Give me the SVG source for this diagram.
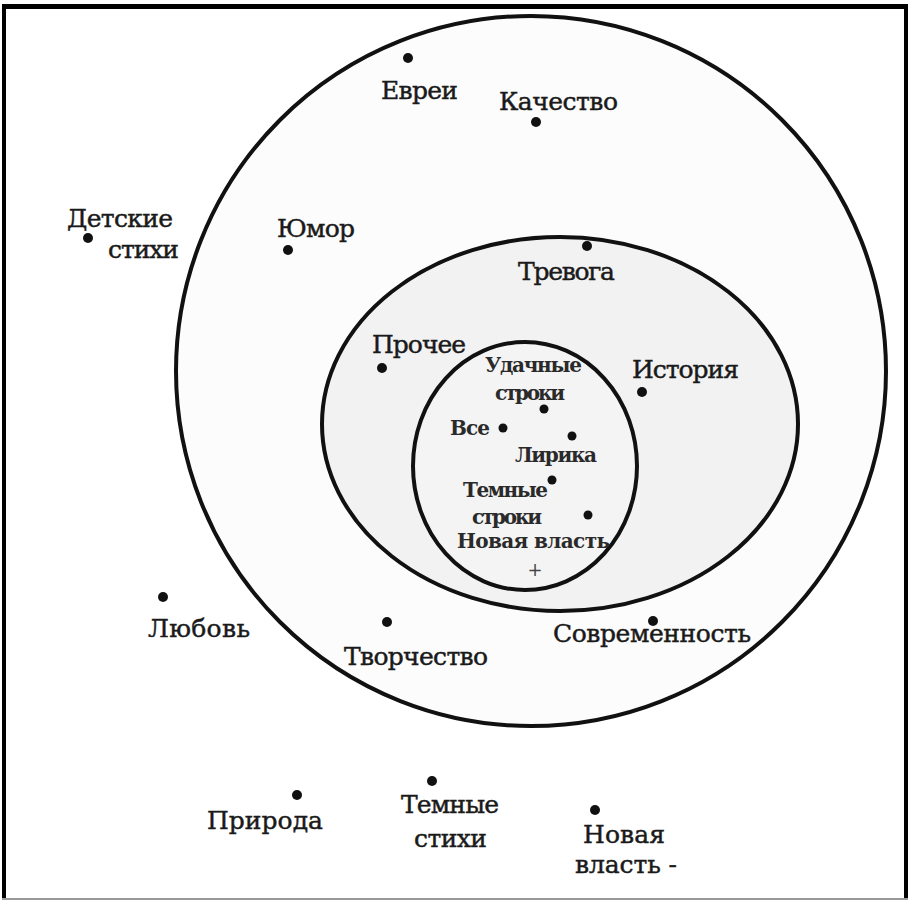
<svg xmlns="http://www.w3.org/2000/svg" width="910" height="902" viewBox="0 0 910 902">
<style>
.ring{stroke:#111;stroke-width:4;}
.dot{fill:#111;}
.lbl{font-family:"DejaVu Serif","Liberation Serif",serif;font-size:25px;fill:#1a1a1a;stroke:#1a1a1a;stroke-width:0.45;}
.in{font-family:"DejaVu Serif","Liberation Serif",serif;font-size:20px;font-weight:bold;fill:#2a2a2a;}
</style>
<rect x="0" y="0" width="910" height="902" fill="#ffffff"/>
<g id="frame">
<line x1="2" y1="6.5" x2="908" y2="6.5" stroke="#000" stroke-width="5"/>
<line x1="4" y1="4" x2="4" y2="900" stroke="#000" stroke-width="4"/>
<line x1="906" y1="4" x2="906" y2="900" stroke="#000" stroke-width="4"/>
<line x1="2" y1="899" x2="908" y2="899" stroke="#999" stroke-width="2"/>
</g>
<g id="rings">
<circle id="outer" class="ring" cx="531" cy="371" r="355" fill="#fcfcfc"/>
<ellipse id="middle" class="ring" cx="560" cy="424" rx="238" ry="187" fill="#f2f2f2"/>
<ellipse id="inner" class="ring" cx="525" cy="466" rx="112" ry="124" fill="#f4f4f4" stroke-width="3.5"/>
</g>
<g id="n-evrei"><circle class="dot" cx="408" cy="58" r="5"/><text class="lbl" x="381" y="99" textLength="77">Евреи</text></g>
<g id="n-kachestvo"><circle class="dot" cx="536" cy="122" r="5"/><text class="lbl" x="499" y="110" textLength="119">Качество</text></g>
<g id="n-detskie"><circle class="dot" cx="88" cy="238" r="5"/><text class="lbl" x="67" y="227" textLength="106">Детские</text><text class="lbl" x="108" y="258" textLength="71">стихи</text></g>
<g id="n-yumor"><circle class="dot" cx="288" cy="250" r="5"/><text class="lbl" x="277" y="237" textLength="78">Юмор</text></g>
<g id="n-trevoga"><circle class="dot" cx="587" cy="246" r="5"/><text class="lbl" x="518" y="280" textLength="97">Тревога</text></g>
<g id="n-prochee"><circle class="dot" cx="382" cy="368" r="5"/><text class="lbl" x="372" y="353" textLength="94">Прочее</text></g>
<g id="n-istoriya"><circle class="dot" cx="642" cy="392" r="5"/><text class="lbl" x="632" y="378" textLength="107">История</text></g>
<g id="n-udachnye"><circle class="dot" cx="544" cy="409" r="4.5"/><text class="in" x="485" y="372" textLength="97">Удачные</text><text class="in" x="495" y="400" textLength="70">строки</text></g>
<g id="n-vse"><circle class="dot" cx="503" cy="428" r="4.5"/><text class="in" x="450" y="435" textLength="40">Все</text></g>
<g id="n-lirika"><circle class="dot" cx="572" cy="436" r="4.5"/><text class="in" x="515" y="462" textLength="82">Лирика</text></g>
<g id="n-temnye-stroki"><circle class="dot" cx="552" cy="480" r="4.5"/><text class="in" x="463" y="497" textLength="85">Темные</text><text class="in" x="472" y="524" textLength="70">строки</text></g>
<g id="n-novaya-vlast"><circle class="dot" cx="588" cy="515" r="4.5"/><text class="in" x="457" y="548" textLength="153">Новая  власть</text></g>
<g id="n-center"><text x="535" y="576" text-anchor="middle" font-family="DejaVu Serif, serif" font-size="18" fill="#444">+</text></g>
<g id="n-lyubov"><circle class="dot" cx="163" cy="597" r="5"/><text class="lbl" x="148" y="637" textLength="102">Любовь</text></g>
<g id="n-tvorchestvo"><circle class="dot" cx="387" cy="622" r="5"/><text class="lbl" x="344" y="665" textLength="144">Творчество</text></g>
<g id="n-sovremennost"><circle class="dot" cx="653" cy="621" r="5"/><text class="lbl" x="553" y="642" textLength="198">Современность</text></g>
<g id="n-priroda"><circle class="dot" cx="297" cy="795" r="5"/><text class="lbl" x="207" y="829" textLength="116">Природа</text></g>
<g id="n-temnye-stihi"><circle class="dot" cx="432" cy="781" r="5"/><text class="lbl" x="401" y="813" textLength="98">Темные</text><text class="lbl" x="414" y="847" textLength="73">стихи</text></g>
<g id="n-novaya-vlast-minus"><circle class="dot" cx="595" cy="810" r="5"/><text class="lbl" x="583" y="843" textLength="82">Новая</text><text class="lbl" x="575" y="873" textLength="102">власть -</text></g>
</svg>
